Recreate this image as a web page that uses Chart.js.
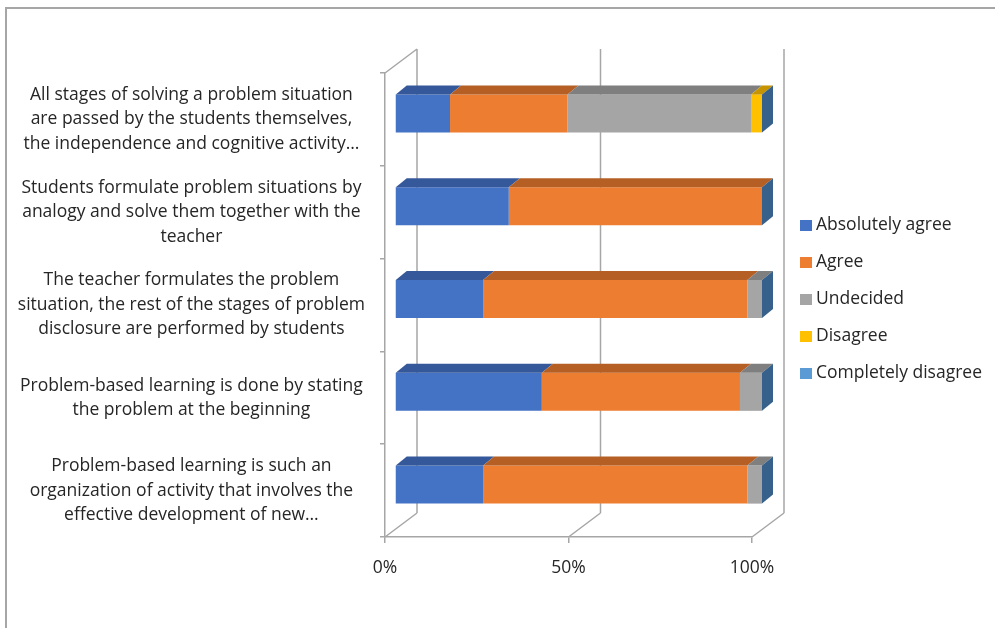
<!DOCTYPE html>
<html>
<head>
<meta charset="utf-8">
<script src="https://cdn.jsdelivr.net/npm/chart.js@4.4.1/dist/chart.umd.min.js"></script>
<style>
  html, body { margin: 0; padding: 0; background: #fff; }
  #wrap { position: relative; width: 995px; height: 628px; }
  #frame { position: absolute; left: 5px; top: 7px; width: 1000px; height: 700px; border: 2px solid #a6a6a6; box-sizing: border-box; }
</style>
</head>
<body>
<div id="wrap">
  <div id="frame"></div>
  <canvas id="chart" width="995" height="628"></canvas>
</div>
<script>
// categories, top to bottom
const statements = [
  ['All stages of solving a problem situation', 'are passed by the students themselves,', 'the independence and cognitive activity…'],
  ['Students formulate problem situations by', 'analogy and solve them together with the', 'teacher'],
  ['The teacher formulates the problem', 'situation, the rest of the stages of problem', 'disclosure are performed by students'],
  ['Problem-based learning is done by stating', 'the problem at the beginning'],
  ['Problem-based learning is such an', 'organization of activity that involves the', 'effective development of new…']
];

// percentages per answer, same order as statements
const absolutelyAgree     = [15, 31, 24, 40, 24];
const agree               = [32, 69, 72, 54, 72];
const undecided           = [50, 0, 4, 6, 4];
const disagree            = [3, 0, 0, 0, 0];
const completelyDisagree  = [0, 0, 0, 0, 0];

const xTicks = [0, 50, 100];

const seriesNames  = ['Absolutely agree', 'Agree', 'Undecided', 'Disagree', 'Completely disagree'];
const seriesValues = [absolutelyAgree, agree, undecided, disagree, completelyDisagree];
const frontColors  = ['#4472c4', '#ed7d31', '#a5a5a5', '#ffc000', '#5b9bd5'];
const topColors    = ['#34589a', '#b65f24', '#7f7f7f', '#c59400', '#3e6d9a'];
const sideColor    = '#37618a';

const FONT = { family: '"Open Sans", sans-serif', size: 17.5, lineHeight: 1.4 };
const TEXT = '#262626';
const LINE = '#a6a6a6';

// bars sit a bit inside the box, walls go to the back
const barShift = { x: 10, y: -6 };
const barDepth = { x: 11, y: 9 };
const wallDepth = { x: 32, y: -24 };

const threeD = {
  id: 'threeD',
  beforeDatasetsDraw(chart) {
    const { ctx, chartArea: a, scales: { x } } = chart;
    ctx.save();
    ctx.strokeStyle = LINE;
    ctx.lineWidth = 1.5;
    ctx.beginPath();
    // back wall gridlines and floor diagonals
    xTicks.forEach(v => {
      const px = x.getPixelForValue(v);
      ctx.moveTo(px + wallDepth.x, a.top + wallDepth.y);
      ctx.lineTo(px + wallDepth.x, a.bottom + wallDepth.y);
      ctx.moveTo(px, a.bottom);
      ctx.lineTo(px + wallDepth.x, a.bottom + wallDepth.y);
    });
    // left wall top edge
    ctx.moveTo(a.left, a.top);
    ctx.lineTo(a.left + wallDepth.x, a.top + wallDepth.y);
    ctx.stroke();
    ctx.restore();

    ctx.save();
    ctx.translate(barShift.x, barShift.y);
  },
  afterDatasetsDraw(chart) {
    const { ctx } = chart;
    const n = chart.data.labels.length;
    for (let i = 0; i < n; i++) {
      let endX = null, top = 0, bottom = 0;
      chart.data.datasets.forEach((ds, di) => {
        const bar = chart.getDatasetMeta(di).data[i];
        const h = bar.height / 2;
        const l = Math.min(bar.x, bar.base), r = Math.max(bar.x, bar.base);
        top = bar.y - h; bottom = bar.y + h;
        if (r - l > 0.5) {
          ctx.fillStyle = topColors[di];
          ctx.beginPath();
          ctx.moveTo(l, top);
          ctx.lineTo(r, top);
          ctx.lineTo(r + barDepth.x, top - barDepth.y);
          ctx.lineTo(l + barDepth.x, top - barDepth.y);
          ctx.closePath();
          ctx.fill();
        }
        endX = endX === null ? r : Math.max(endX, r);
      });
      ctx.fillStyle = sideColor;
      ctx.beginPath();
      ctx.moveTo(endX, top);
      ctx.lineTo(endX + barDepth.x, top - barDepth.y);
      ctx.lineTo(endX + barDepth.x, bottom - barDepth.y);
      ctx.lineTo(endX, bottom);
      ctx.closePath();
      ctx.fill();
    }
    ctx.restore();
  },
  afterDraw(chart) {
    // legend on the right
    const { ctx } = chart;
    ctx.save();
    ctx.font = `${FONT.size}px ${FONT.family}`;
    ctx.textBaseline = 'middle';
    chart.data.datasets.forEach((ds, i) => {
      const y = 225 + i * 37;
      ctx.fillStyle = ds.backgroundColor;
      ctx.fillRect(800, y - 5, 12, 11);
      ctx.fillStyle = TEXT;
      ctx.fillText(ds.label, 816, y);
    });
    ctx.restore();
  }
};

new Chart(document.getElementById('chart'), {
  type: 'bar',
  data: {
    labels: statements,
    datasets: seriesNames.map((name, i) => ({
      label: name,
      data: seriesValues[i],
      backgroundColor: frontColors[i],
      borderWidth: 0,
      barPercentage: 0.41,
      categoryPercentage: 1
    }))
  },
  options: {
    indexAxis: 'y',
    responsive: false,
    animation: false,
    layout: { padding: { top: 73, right: 243, bottom: 0, left: 0 } },
    plugins: { legend: { display: false }, tooltip: { enabled: false } },
    scales: {
      x: {
        stacked: true,
        min: 0, max: 100,
        afterBuildTicks: s => { s.ticks = xTicks.map(v => ({ value: v })); },
        afterFit: s => { s.height = 91; },
        grid: { drawOnChartArea: false, drawTicks: true, tickLength: 6, color: LINE, lineWidth: 1.5 },
        border: { color: LINE, width: 1.5 },
        ticks: { callback: v => v + '%', color: TEXT, font: FONT, padding: 13, maxRotation: 0 }
      },
      y: {
        stacked: true,
        afterFit: s => { s.width = 385; },
        grid: { drawOnChartArea: false, drawTicks: true, tickLength: 5, color: LINE, lineWidth: 1.5 },
        border: { color: LINE, width: 1.5 },
        ticks: { color: TEXT, font: FONT, padding: 15, crossAlign: 'center', autoSkip: false }
      }
    }
  },
  plugins: [threeD]
});
</script>
</body>
</html>
